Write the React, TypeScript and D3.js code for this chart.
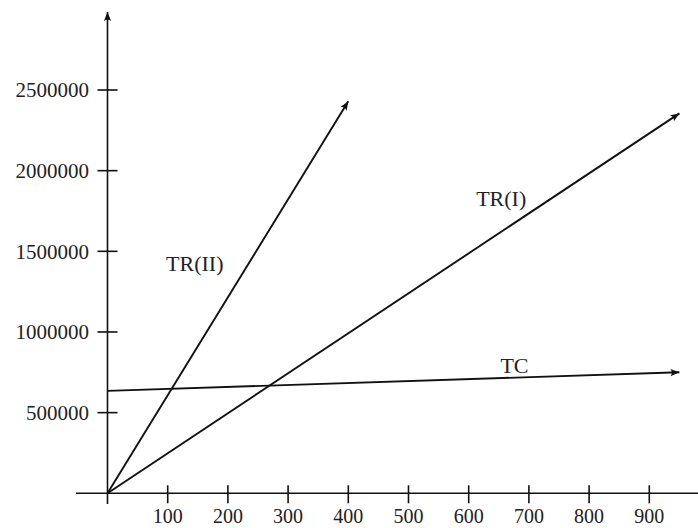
import React from "react";
import * as d3 from "d3";

const xTicks = [100, 200, 300, 400, 500, 600, 700, 800, 900];
const yTicks = [500000, 1000000, 1500000, 2000000, 2500000];

const trIIQ = [0, 400];
const trIIV = [0, 2430000];
const trIQ = [0, 950];
const trIV = [0, 2355000];
const tcQ = [0, 950];
const tcV = [635000, 750000];

const labels = [
  { text: "TR(II)", q: 145, v: 1425000 },
  { text: "TR(I)", q: 654, v: 1830000 },
  { text: "TC", q: 676, v: 795000 },
];

const W = 698;
const H = 528;
const FONT = "'Liberation Serif', 'DejaVu Serif', serif";

export default function App() {
  const x = d3.scaleLinear().domain([0, 900]).range([107.5, 649.3]);
  const y = d3.scaleLinear().domain([0, 2500000]).range([493.3, 90]);
  const line = d3
    .line<[number, number]>()
    .x((d) => x(d[0]))
    .y((d) => y(d[1]));
  const series = [
    { q: trIIQ, v: trIIV },
    { q: trIQ, v: trIV },
    { q: tcQ, v: tcV },
  ];
  const x0 = x(0);
  const y0 = y(0);
  return (
    <svg
      width={W}
      height={H}
      style={{ position: "absolute", left: 0, top: 0, background: "#fff" }}
    >
      <defs>
        <marker
          id="arr"
          viewBox="-10 -5 12 10"
          markerWidth={12}
          markerHeight={10}
          refX={0}
          refY={0}
          orient="auto"
          markerUnits="userSpaceOnUse"
        >
          <path d="M0,0 L-9,-3.6 Q-6,0 -9,3.6 Z" fill="#111" />
        </marker>
      </defs>
      {/* axes */}
      <line x1={76} x2={698} y1={y0} y2={y0} stroke="#111" strokeWidth={1.6} />
      <line
        x1={x0}
        x2={x0}
        y1={504}
        y2={12}
        stroke="#111"
        strokeWidth={1.6}
        markerEnd="url(#arr)"
      />
      {xTicks.map((t) => (
        <g key={t}>
          <line
            x1={x(t)}
            x2={x(t)}
            y1={y0 - 8}
            y2={y0 + 10}
            stroke="#111"
            strokeWidth={1.6}
          />
          <text
            x={x(t)}
            y={523}
            textAnchor="middle"
            fontFamily={FONT}
            fontSize={20}
            fill="#222"
          >
            {t}
          </text>
        </g>
      ))}
      {yTicks.map((t) => (
        <g key={t}>
          <line
            x1={x0 - 10}
            x2={x0 + 10}
            y1={y(t)}
            y2={y(t)}
            stroke="#111"
            strokeWidth={1.6}
          />
          <text
            x={89}
            y={y(t)}
            dy="0.35em"
            textAnchor="end"
            fontFamily={FONT}
            fontSize={21}
            fill="#222"
          >
            {t}
          </text>
        </g>
      ))}
      {series.map((s, i) => (
        <path
          key={i}
          d={line(s.q.map((q, j) => [q, s.v[j]] as [number, number])) || ""}
          fill="none"
          stroke="#111"
          strokeWidth={1.9}
          markerEnd="url(#arr)"
        />
      ))}
      {labels.map((l) => (
        <text
          key={l.text}
          x={x(l.q)}
          y={y(l.v)}
          dy="0.35em"
          textAnchor="middle"
          fontFamily={FONT}
          fontSize={22}
          fill="#222"
        >
          {l.text}
        </text>
      ))}
    </svg>
  );
}
